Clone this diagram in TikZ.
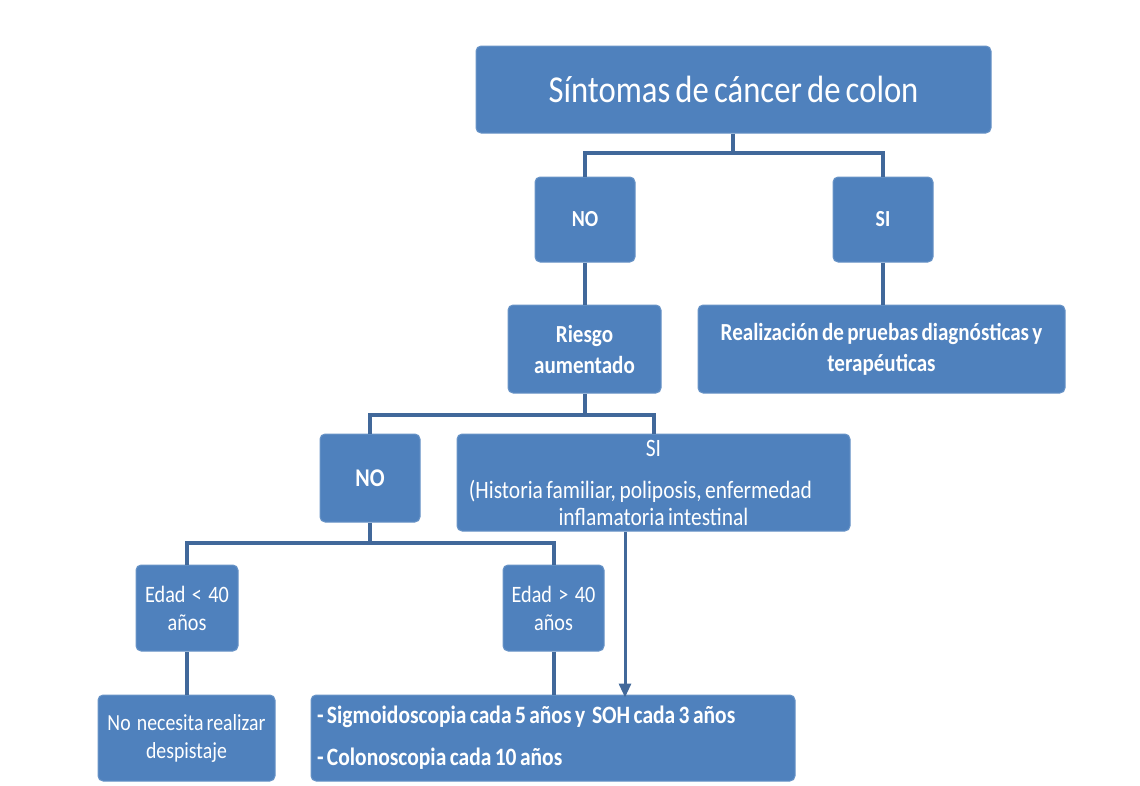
\documentclass[tikz,border=0pt]{standalone}
\usepackage{fontspec}
\setmainfont[FakeStretch=0.86,WordSpace=0.7]{Carlito}
\usetikzlibrary{arrows.meta}
\definecolor{boxblue}{HTML}{4F81BD}
\definecolor{linkblue}{HTML}{41689A}
\begin{document}
\begin{tikzpicture}[x=1pt,y=-1pt,
  box/.style={draw=boxblue!85!white,line width=1pt,fill=boxblue,rounded corners=5pt,text=white,align=center,inner sep=2pt},
  link/.style={draw=linkblue,line width=4pt},
  arrowlink/.style={draw=linkblue,line width=3pt,-{Triangle[length=14pt,width=12pt]}}]
\useasboundingbox (0,0) rectangle (1140,785);
\node[box,minimum width=515pt,minimum height=87pt,font=\fontsize{38}{40}\selectfont] (top) at (733.5,89.5) {Síntomas de cáncer de colon};
\node[box,minimum width=100pt,minimum height=85pt,font=\bfseries\fontsize{23}{26}\selectfont] (no1) at (585,219.5) {NO};
\node[box,minimum width=100pt,minimum height=85pt,font=\bfseries\fontsize{23}{26}\selectfont] (si1) at (883,219.5) {SI};
\node[box,minimum width=153pt,minimum height=88pt,font=\bfseries\fontsize{24.5}{31}\selectfont] (riesgo) at (584.5,349) {Riesgo\\aumentado};
\node[box,minimum width=367pt,minimum height=88pt,font=\bfseries\fontsize{24.5}{31}\selectfont] (real) at (881.5,349) {Realización de pruebas diagnósticas y\\terapéuticas};
\node[box,minimum width=100pt,minimum height=88pt,font=\bfseries\fontsize{25.5}{28}\selectfont] (no2) at (370,478) {NO};
\node[box,minimum width=393pt,minimum height=97pt,font=\fontsize{25}{27}\selectfont] (si2) at (653.5,482.5) {SI\\[15pt](Historia familiar, poliposis, enfermedad\rule{26pt}{0pt}\\inflamatoria intestinal};
\node[box,minimum width=102pt,minimum height=86pt,font=\fontsize{23.5}{28}\selectfont] (menor) at (187,608) {Edad\ \ <\ \ 40\\años};
\node[box,minimum width=101pt,minimum height=86pt,font=\fontsize{23.5}{28}\selectfont] (mayor) at (553.5,608) {Edad\ \ >\ \ 40\\años};
\node[box,minimum width=177pt,minimum height=86pt,font=\fontsize{23}{28}\selectfont] (nonec) at (186.5,738) {No\ \ necesita realizar\\despistaje};
\node[box,minimum width=484pt,minimum height=86pt,text width=472pt,align=flush left,font=\bfseries\fontsize{25}{42}\selectfont] (sigmo) at (553,738) {- Sigmoidoscopia cada 5 años y\ \ SOH cada 3 años\\- Colonoscopia cada 10 años};
% connectors
\coordinate (j1) at (733,153);
\draw[link] (top.south -| j1) -- (j1);
\draw[link] (no1.north) |- (j1) -| (si1.north);
\draw[link] (no1.south) -- (riesgo.north -| no1.south);
\draw[link] (si1.south) -- (real.north -| si1.south);
\coordinate (j2) at (585,415);
\draw[link] (riesgo.south -| j2) -- (j2);
\draw[link] (no2.north) |- (j2) -| (si2.north);
\coordinate (j3) at (370,543);
\draw[link] (no2.south) -- (j3);
\draw[link] (menor.north) |- (j3) -| (mayor.north);
\draw[link] (menor.south) -- (nonec.north -| menor.south);
\draw[link] (mayor.south) -- (sigmo.north -| mayor.south);
\coordinate (a1) at (625,531);
\draw[arrowlink] (si2.south -| a1) -- ([yshift=-3pt]sigmo.north -| a1);
\end{tikzpicture}
\end{document}
